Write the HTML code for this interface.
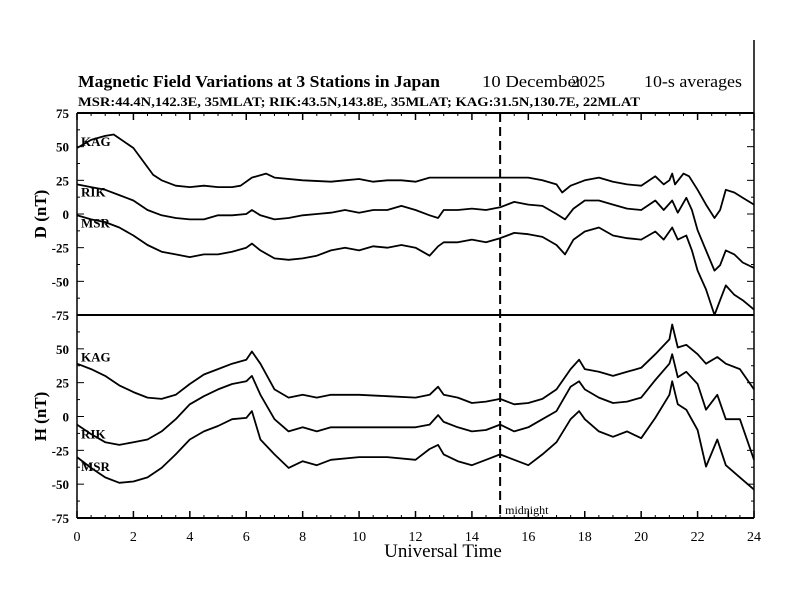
<!DOCTYPE html>
<html><head><meta charset="utf-8"><style>
body{margin:0;background:#fff;}
svg{display:block;font-family:"Liberation Serif",serif;}
</style></head><body>
<svg id="chart" width="792" height="612" viewBox="0 0 792 612" xmlns="http://www.w3.org/2000/svg">
<text x="78" y="87" font-size="17" font-weight="bold" textLength="362" lengthAdjust="spacingAndGlyphs">Magnetic Field Variations at 3 Stations in Japan</text>
<text x="482" y="87" font-size="17" textLength="100" lengthAdjust="spacingAndGlyphs">10 December</text>
<text x="571" y="87" font-size="17">2025</text>
<text x="644" y="87" font-size="17" textLength="98" lengthAdjust="spacingAndGlyphs">10-s averages</text>
<text x="78" y="106" font-size="13" font-weight="bold" textLength="562" lengthAdjust="spacingAndGlyphs">MSR:44.4N,142.3E, 35MLAT;  RIK:43.5N,143.8E, 35MLAT;  KAG:31.5N,130.7E, 22MLAT</text>
<g id="axes"></g>
<g id="series"></g>
</svg>
<script>
const hours=[0,2,4,6,8,10,12,14,16,18,20,22,24];
const yTicks=[75,50,25,0,-25,-50,-75];
const yTickLabels=["75","50","25","0","-25","-50","-75"];
const midnightHour=15;

const dKagT=[0,0.5,1,1.3,2,2.7,3,3.5,4,4.5,5,5.5,5.8,6.2,6.7,7,8,9,9.5,10,10.5,11,11.5,12,12.5,13,14,15,15.5,16,16.5,17,17.2,17.5,18,18.5,19,19.5,20,20.5,20.8,21,21.1,21.2,21.5,21.7,22,22.3,22.6,22.8,23,23.3,23.6,24];
const dKagV=[49,55,58,59,49,29,25,21,20,21,20,20,21,27,30,27,25,24,25,26,24,25,25,24,27,27,27,27,27,27,25,22,16,21,25,27,24,22,21,28,22,25,30,22,30,28,18,7,-3,3,18,16,12,7];
const dT=[0,0.5,1,1.5,2,2.5,3,3.5,4,4.5,5,5.5,6,6.2,6.5,7,7.5,8,8.5,9,9.5,10,10.5,11,11.5,12,12.5,12.8,13,13.5,14,14.5,15,15.5,16,16.5,17,17.3,17.6,18,18.5,19,19.5,20,20.5,20.8,21.1,21.3,21.6,21.8,22,22.3,22.6,22.8,23,23.3,23.6,24];
const dRikV=[22,20,18,14,10,3,-1,-3,-4,-4,-1,-1,0,3,-1,-4,-3,-1,0,1,3,1,3,3,6,3,-1,-3,3,3,4,3,5,9,7,6,0,-4,4,10,10,7,4,3,10,3,10,1,12,3,-12,-27,-42,-38,-27,-30,-36,-40];
const dMsrV=[-1,-4,-6,-10,-16,-23,-28,-30,-32,-30,-30,-28,-25,-22,-27,-33,-34,-33,-31,-27,-25,-27,-24,-25,-23,-25,-31,-24,-21,-21,-19,-21,-18,-14,-15,-17,-23,-30,-19,-13,-10,-16,-18,-19,-13,-19,-10,-19,-16,-27,-42,-56,-75,-64,-53,-60,-64,-71];

const hT=[0,0.5,1,1.5,2,2.5,3,3.5,4,4.5,5,5.5,6,6.2,6.5,7,7.5,8,8.5,9,10,11,12,12.5,12.8,13,13.5,14,14.5,15,15.5,16,16.5,17,17.5,17.8,18,18.5,19,19.5,20,20.5,21,21.1,21.3,21.6,22,22.3,22.7,23,23.5,24];
const hKagV=[39,35,30,23,18,14,13,16,24,31,35,39,42,48,39,20,14,16,14,16,16,15,14,16,22,16,14,10,11,13,9,10,13,20,35,42,35,33,30,33,36,46,57,68,51,53,46,39,44,39,35,20];
const hRikV=[-6,-13,-19,-21,-19,-17,-11,-2,9,15,20,24,26,30,16,-2,-11,-8,-11,-8,-8,-8,-8,-6,1,-4,-8,-11,-10,-6,-11,-8,-2,4,22,26,20,14,10,11,14,27,39,46,29,33,24,5,16,-2,-2,-32];
const hMsrV=[-30,-38,-45,-49,-48,-45,-38,-28,-17,-11,-7,-2,-1,4,-17,-28,-38,-33,-36,-32,-30,-30,-32,-24,-21,-28,-33,-36,-32,-28,-32,-36,-28,-19,-2,4,-2,-11,-15,-11,-16,-1,16,26,9,5,-10,-37,-17,-36,-45,-54];

const NS="http://www.w3.org/2000/svg";
const X0=77,X1=754;
const panels=[{top:113,bot:315,name:"d",title:"D (nT)"},{top:315,bot:518,name:"h",title:"H (nT)"}];
const xs=t=>X0+(X1-X0)*t/24;
const ys=(p,v)=>p.top+(p.bot-p.top)*(75-v)/150;
const axes=document.getElementById('axes'),series=document.getElementById('series');
function mk(tag,attrs,parent){const e=document.createElementNS(NS,tag);for(const k in attrs)e.setAttribute(k,attrs[k]);parent.appendChild(e);return e;}

const rightLine=mk('line',{x1:X1,y1:40,x2:X1,y2:518,stroke:'#000','stroke-width':1.5},axes);


const leftLine=mk('line',{x1:X0,y1:113,x2:X0,y2:518,stroke:'#000','stroke-width':1.5},axes);


[113,315,518].forEach(y=>{
  const l=mk('line',{x1:X0,y1:y,x2:X1,y2:y,stroke:'#000','stroke-width':2},axes);
  
  
  for(let t=0;t<=24;t+=0.5){
    const maj=t%2===0;const len=maj?7:3;
    if(y!==315){
      const dir=y===113?1:-1;
      const tk=mk('line',{x1:xs(t),y1:y,x2:xs(t),y2:y+dir*len,stroke:'#000','stroke-width':maj?1.5:1},axes);
      
      
    }
  }
});
hours.forEach(h=>{
  const tx=mk('text',{x:xs(h),y:541,'font-size':14,'text-anchor':'middle'},axes);
  tx.textContent=h;
  
  
});
const xt=mk('text',{x:443,y:557,'font-size':19,'text-anchor':'middle'},axes);
xt.textContent='Universal Time';



panels.forEach(p=>{
  for(let v=-75;v<=75;v+=12.5){
    const maj=v%25===0;
    [[X0,1],[X1,-1]].forEach(([x,d])=>{
      const tk=mk('line',{x1:x,y1:ys(p,v),x2:x+d*(maj?7:3),y2:ys(p,v),stroke:'#000','stroke-width':1},axes);
      
      
    });
  }
  yTicks.forEach((v,i)=>{
    if(p.name==='h'&&v===75)return;
    const tx=mk('text',{x:69,y:ys(p,v)+5,'font-size':13,'font-weight':'bold','text-anchor':'end'},axes);
    tx.textContent=yTickLabels[i];
    
    
  });
  const cy=(p.top+p.bot)/2;
  const yt=mk('text',{x:0,y:0,'font-size':17,'font-weight':'bold','text-anchor':'middle',transform:`translate(46,${cy}) rotate(-90)`},axes);
  yt.textContent=p.title;
  
  
});

const mid=mk('line',{x1:xs(midnightHour),y1:113,x2:xs(midnightHour),y2:518,stroke:'#000','stroke-width':2,'stroke-dasharray':'9,5'},axes);


const midt=mk('text',{x:xs(midnightHour)+5,y:514,'font-size':12},axes);
midt.textContent='midnight';



const defs=[
  [panels[0],dKagT,dKagV,'d-kag','KAG'],[panels[0],dT,dRikV,'d-rik','RIK'],[panels[0],dT,dMsrV,'d-msr','MSR'],
  [panels[1],hT,hKagV,'h-kag','KAG'],[panels[1],hT,hRikV,'h-rik','RIK'],[panels[1],hT,hMsrV,'h-msr','MSR']];
defs.forEach(([p,T,V,name,lab])=>{
  const d=T.map((t,i)=>(i?'L':'M')+xs(t).toFixed(1)+','+ys(p,V[i]).toFixed(1)).join('');
  const path=mk('path',{d:d,fill:'none',stroke:'#000','stroke-width':1.8,'stroke-linejoin':'round'},series);
  
  
  const tx=mk('text',{x:81,y:ys(p,V[0])+(lab==='KAG'?-2:(p.name==='d'?12:14)),'font-size':13,'font-weight':'bold'},series);
  tx.textContent=lab;
  
  
});
</script>
</body></html>
